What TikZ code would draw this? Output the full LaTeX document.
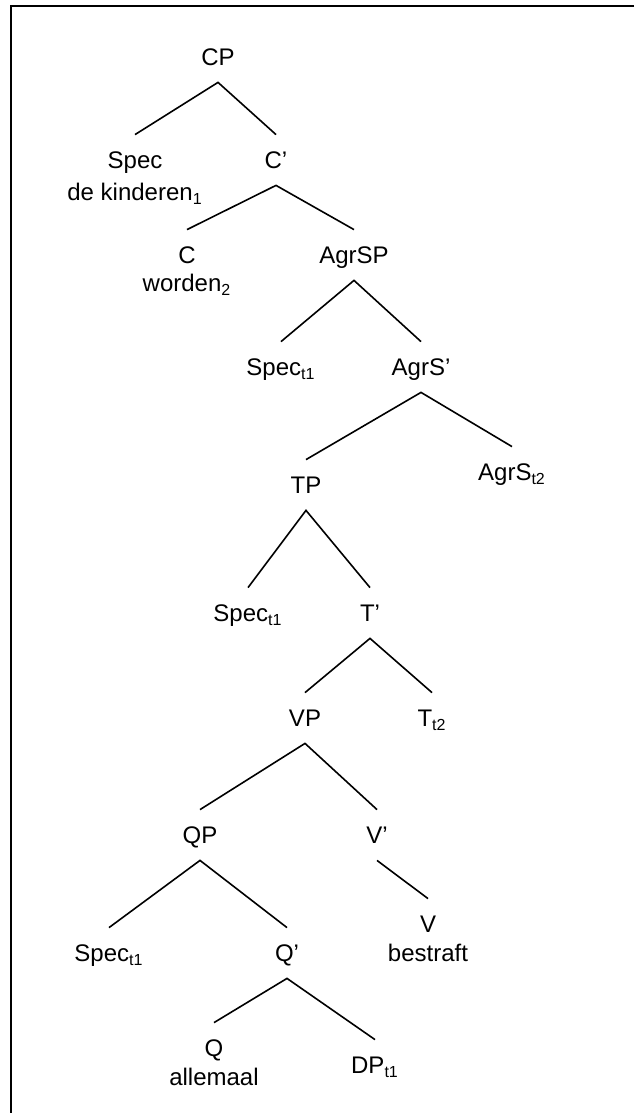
\documentclass[tikz,border=0pt]{standalone}
\usepackage{fontspec}
\setmainfont{Liberation Sans}
\begin{document}
\begin{tikzpicture}[x=0.5pt, y=-0.5pt,
  every node/.style={font=\fontsize{12pt}{14pt}\selectfont, inner sep=0pt},
  cat/.style={text height=8.6pt, text depth=0pt, minimum height=25pt},
  word/.style={text height=8.6pt, text depth=0pt},
  branch/.style={line width=0.8pt},
  frame/.style={line width=1pt}]
\useasboundingbox (0,0) rectangle (634,1113);

% frame (only its top and left edges fall inside the page)
\draw[frame] (634,6.5) -- (10.5,6.5) -- (10.5,1113);

% categories
\node[cat] (cp)    at (218,57)   {CP};
\node[cat] (spec1) at (135,160)  {Spec};
\node[word] (kind) at (135,192)  {de kinderen\textsubscript{1}};
\node[cat] (cbar)  at (276,160)  {C’};
\node[cat] (c)     at (187,255)  {C};
\node[word] (word) at (187,283)  {worden\textsubscript{2}};
\node[cat] (agrsp) at (354,255)  {AgrSP};
\node[cat] (spec2) at (281,367)  {Spec\textsubscript{t1}};
\node[cat] (agrsb) at (421,367)  {AgrS’};
\node[cat] (tp)    at (306,485)  {TP};
\node[cat] (agrs)  at (512,472)  {AgrS\textsubscript{t2}};
\node[cat] (spec3) at (248,613)  {Spec\textsubscript{t1}};
\node[cat] (tbar)  at (370,613)  {T’};
\node[cat] (vp)    at (305,718)  {VP};
\node[cat] (t)     at (432,718)  {T\textsubscript{t2}};
\node[cat] (qp)    at (200,835)  {QP};
\node[cat] (vbar)  at (377,835)  {V’};
\node[cat] (spec4) at (109,953)  {Spec\textsubscript{t1}};
\node[cat] (qbar)  at (287,953)  {Q’};
\node[cat] (v)     at (428,924)  {V};
\node[word] (best) at (428,953)  {bestraft};
\node[cat] (q)     at (214,1048) {Q};
\node[word] (alle) at (214,1077) {allemaal};
\node[cat] (dp)    at (375,1065) {DP\textsubscript{t1}};

% branches
\draw[branch] (spec1.north) -- (cp.south) -- (cbar.north);
\draw[branch] (c.north) -- (cbar.south) -- (agrsp.north);
\draw[branch] (spec2.north) -- (agrsp.south) -- (agrsb.north);
\draw[branch] (tp.north) -- (agrsb.south) -- (agrs.north);
\draw[branch] (spec3.north) -- (tp.south) -- (tbar.north);
\draw[branch] (vp.north) -- (tbar.south) -- (t.north);
\draw[branch] (qp.north) -- (vp.south) -- (vbar.north);
\draw[branch] (vbar.south) -- (v.north);
\draw[branch] (spec4.north) -- (qp.south) -- (qbar.north);
\draw[branch] (q.north) -- (qbar.south) -- (dp.north);
\end{tikzpicture}
\end{document}
